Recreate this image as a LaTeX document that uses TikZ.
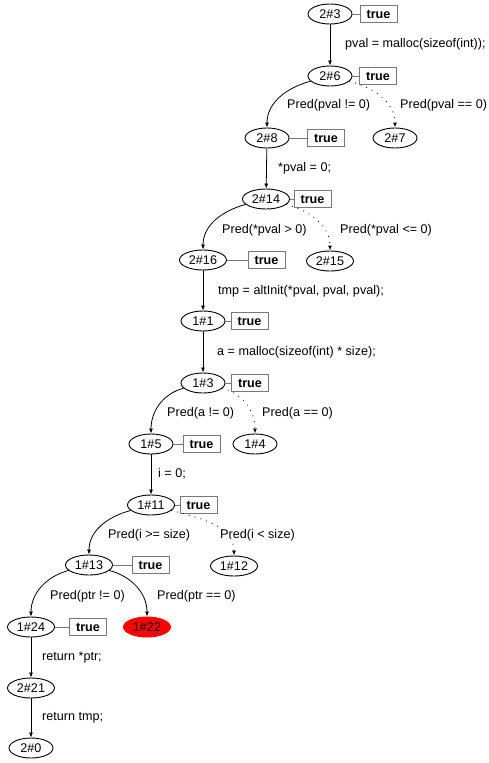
\documentclass[tikz,border=0pt]{standalone}
\usepackage{fontspec}
\setmainfont{Liberation Sans}
\usetikzlibrary{arrows.meta,shapes.geometric}
\newcommand{\lblfont}{\fontsize{12.6}{15}\selectfont}
\definecolor{boxgray}{RGB}{120,120,120}
\begin{document}
\begin{tikzpicture}[x=1pt,y=-1pt,
  st/.style={ellipse, draw, line width=0.9pt, minimum width=44pt, minimum height=20pt, inner sep=0pt, font=\lblfont},
  stw/.style={st, minimum width=47pt},
  errst/.style={stw, draw=red, fill=red},
  tb/.style={draw=boxgray, line width=0.9pt, minimum width=37pt, minimum height=17pt, inner sep=0pt, font=\lblfont\bfseries},
  tie/.style={draw=boxgray, line width=0.9pt},
  lbl/.style={anchor=west, inner sep=0pt, font=\lblfont},
  edge/.style={draw, line width=0.8pt, -{Latex[length=5pt,width=4pt]}},
  dedge/.style={edge, line width=1.1pt, line cap=round, dash pattern=on 0.1pt off 6pt}]
\useasboundingbox (0,0) rectangle (488,763);

% states
\node[st]  (s23)  at (330,14)  {2\#3};
\node[st]  (s26)  at (330,76)  {2\#6};
\node[st]  (s28)  at (267,138) {2\#8};
\node[st]  (s27)  at (395,138) {2\#7};
\node[stw] (s214) at (266,199) {2\#14};
\node[stw] (s216) at (203,260) {2\#16};
\node[stw] (s215) at (330,261) {2\#15};
\node[st]  (s11)  at (203,321) {1\#1};
\node[st]  (s13)  at (203,383) {1\#3};
\node[st]  (s15)  at (151,444) {1\#5};
\node[st]  (s14)  at (255,444) {1\#4};
\node[stw] (s111) at (151,505) {1\#11};
\node[stw] (s113) at (89,565)  {1\#13};
\node[stw] (s112) at (234,566) {1\#12};
\node[stw] (s124) at (31,627)  {1\#24};
\node[errst] (s122) at (147,627) {1\#22};
\node[stw] (s221) at (31,688)  {2\#21};
\node[st]  (s20)  at (31,748)  {2\#0};

% attached conditions
\node[tb] (t23)  at (378.5,14)  {true};
\node[tb] (t26)  at (378,76)    {true};
\node[tb] (t28)  at (326,138)   {true};
\node[tb] (t214) at (312.5,199) {true};
\node[tb] (t216) at (266.5,260) {true};
\node[tb] (t11)  at (249.5,321) {true};
\node[tb] (t13)  at (250,383)   {true};
\node[tb] (t15)  at (201.5,444) {true};
\node[tb] (t111) at (198.5,505) {true};
\node[tb] (t113) at (150.5,565) {true};
\node[tb] (t124) at (88,627)    {true};

\foreach \s/\t in {s23/t23, s26/t26, s28/t28, s214/t214, s216/t216, s11/t11,
                   s13/t13, s15/t15, s111/t111, s113/t113, s124/t124}
  \draw[tie] (\s) -- (\t);

% transitions
\draw[edge] (s23) -- (s26);
\draw[edge] (s26) to[out=195, in=90] (s28);
\draw[dedge] (s26) to[out=-15, in=90] (s27);
\draw[edge] (s28) -- (s214);
\draw[edge] (s214) to[out=195, in=90] (s216);
\draw[dedge] (s214) to[out=-15, in=90] (s215);
\draw[edge] (s216) -- (s11);
\draw[edge] (s11) -- (s13);
\draw[edge] (s13) to[out=195, in=90] (s15);
\draw[dedge] (s13) to[out=-15, in=90] (s14);
\draw[edge] (s15) -- (s111);
\draw[edge] (s111) to[out=195, in=90] (s113);
\draw[dedge] (s111) to[out=-15, in=90] (s112);
\draw[edge] (s113) to[out=195, in=90] (s124);
\draw[edge] (s113) to[out=-15, in=90] (s122);
\draw[edge] (s124) -- (s221);
\draw[edge] (s221) -- (s20);

% transition labels
\node[lbl] (l1)  at (345,44)  {pval = malloc(sizeof(int));};
\node[lbl] (l2)  at (287,105) {Pred(pval != 0)};
\node[lbl] (l3)  at (400,105) {Pred(pval == 0)};
\node[lbl] (l4)  at (278,168) {*pval = 0;};
\node[lbl] (l5)  at (222,230) {Pred(*pval > 0)};
\node[lbl] (l6)  at (340,230) {Pred(*pval <= 0)};
\node[lbl] (l7)  at (218,291) {tmp = altInit(*pval, pval, pval);};
\node[lbl] (l8)  at (217,352) {a = malloc(sizeof(int) * size);};
\node[lbl] (l9)  at (167,413) {Pred(a != 0)};
\node[lbl] (l10) at (262,413) {Pred(a == 0)};
\node[lbl] (l11) at (158,474) {i = 0;};
\node[lbl] (l12) at (108,535) {Pred(i >= size)};
\node[lbl] (l13) at (220,535) {Pred(i < size)};
\node[lbl] (l14) at (50,596)  {Pred(ptr != 0)};
\node[lbl] (l15) at (157,596) {Pred(ptr == 0)};
\node[lbl] (l16) at (42,657)  {return *ptr;};
\node[lbl] (l17) at (42,718)  {return tmp;};
\end{tikzpicture}
\end{document}
